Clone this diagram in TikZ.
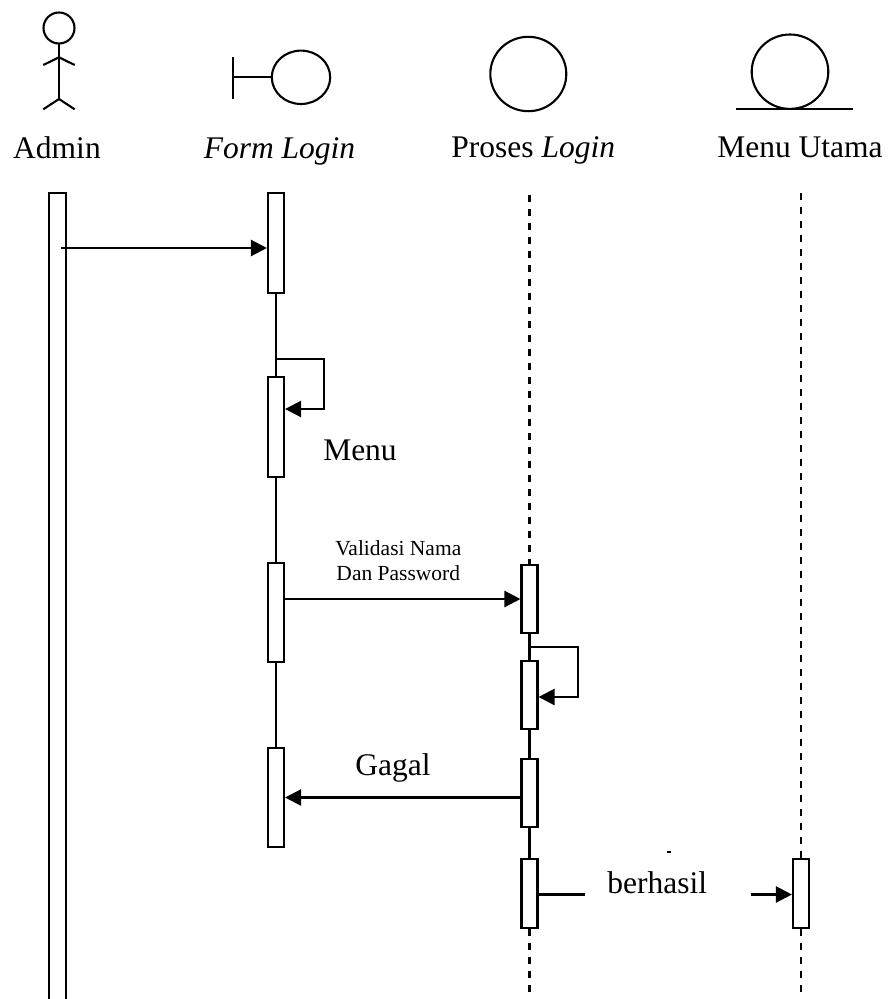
\documentclass[tikz,border=0pt]{standalone}
\usepackage{fontspec}
\setmainfont{Liberation Serif}
\usetikzlibrary{arrows.meta}
\begin{document}
\begin{tikzpicture}[x=1pt,y=-1pt,
  ln/.style={line width=2.3pt},
  icon/.style={line width=2.1pt},
  bar/.style={draw,fill=white,line width=2.1pt,minimum width=16pt,inner sep=0pt,rectangle},
  msg/.style={line width=2.3pt,-{Triangle[length=16pt,width=16pt]}},
  life/.style={line width=2.1pt},
  dlife/.style={line width=2.1pt,dash pattern=on 7pt off 7pt},
  big/.style={font=\fontsize{31.5}{37}\selectfont,inner sep=0pt},
  small/.style={font=\fontsize{21.5}{25}\selectfont,inner sep=0pt,align=center}]
\useasboundingbox (0,0) rectangle (890,999);

% ---- header icons
% actor
\draw[icon] (59,28) circle (15.5);
\draw[icon] (59,43.5) -- (59,99);
\draw[icon] (43.3,65) -- (59,57.3) -- (74.7,65);
\draw[icon] (43.3,109.3) -- (59,99) -- (74.7,109.3);
% boundary
\draw[icon] (233.3,57) -- (233.3,99);
\draw[icon] (233.3,77) -- (271.8,77);
\draw[icon] (301,77.3) ellipse [x radius=29.2, y radius=26.7];
% control
\draw[icon] (528.3,74) ellipse [x radius=38, y radius=37.2];
% entity
\draw[icon] (790,71.7) ellipse [x radius=38.3, y radius=37.2];
\draw[icon] (735.7,109) -- (852.7,109);

% ---- header labels
\node[big,anchor=base] (tA) at (57,158) {Admin};
\node[big,anchor=base] (tF) at (279.5,158) {\textit{Form Login}};
\node[big,anchor=base] (tP) at (533.3,157) {Proses \textit{Login}};
\node[big,anchor=base] (tM) at (800,157) {Menu Utama};

% ---- activation bars
\node[bar,minimum width=17pt,minimum height=817pt] (A) at (57.6,601.5) {};
\node[bar,minimum height=100pt] (F1) at (276,243) {};
\node[bar,minimum height=100pt] (F2) at (276,427) {};
\node[bar,minimum height=99pt] (F3) at (276,612.5) {};
\node[bar,minimum height=99pt] (F4) at (276,797.5) {};
\node[bar,minimum height=68pt] (P1) at (529.5,599) {};
\node[bar,minimum height=68pt] (P2) at (529.5,695) {};
\node[bar,minimum height=68pt] (P3) at (529.5,793) {};
\node[bar,minimum height=69pt] (P4) at (529.5,893.5) {};
\node[bar,minimum height=69pt] (M) at (801,893.5) {};

% ---- lifelines
\draw[life] (F1.south) -- (F2.north);
\draw[life] (F2.south) -- (F3.north);
\draw[life] (F3.south) -- (F4.north);
\coordinate (ptop) at (529.5,195);
\coordinate (pbot) at (529.5,1004);
\draw[dlife] (ptop) -- (P1.north);
\draw[life] (P1.south) -- (P2.north);
\draw[life] (P2.south) -- (P3.north);
\draw[life] (P3.south) -- (P4.north);
\draw[dlife] (P4.south) -- (pbot);
\coordinate (mtop) at (801,193);
\coordinate (mbot) at (801,1004);
\draw[dlife] (mtop) -- (M.north);
\draw[dlife] (M.south) -- (mbot);

% ---- messages
\coordinate (a1) at (61,248);
\draw[msg] (a1) -- (a1 -| F1.west);

\coordinate (s1) at (324,359);
\coordinate (s2) at (324,409);
\draw[msg] (s1 -| F1.south) -- (s1) -- (s2) -- (s2 -| F2.east);
\node[big,anchor=base] (lMenu) at (360,460) {Menu};

\draw[msg] (F3.east |- P1.west) -- (P1.west);
\node[small,anchor=base] (lVal1) at (398.3,555) {Validasi Nama};
\node[small,anchor=base] (lVal2) at (398.3,580) {Dan Password};

\coordinate (s3) at (578,647);
\coordinate (s4) at (578,697);
\draw[msg] (s3 -| P1.south) -- (s3) -- (s4) -- (s4 -| P2.east);

\draw[msg] (P3.west |- F4.east) -- (F4.east);
\node[big,anchor=base] (lGagal) at (393,775) {Gagal};

\coordinate (b1) at (585,894.5);
\coordinate (b2) at (751,894.5);
\draw[ln] (P4.east |- b1) -- (b1);
\draw[msg] (b2) -- (b2 -| M.west);
\node[big,anchor=base] (lBer) at (657.3,893) {berhasil};
\draw[line width=1.4pt] (667,852) -- (671,852);
\end{tikzpicture}
\end{document}
